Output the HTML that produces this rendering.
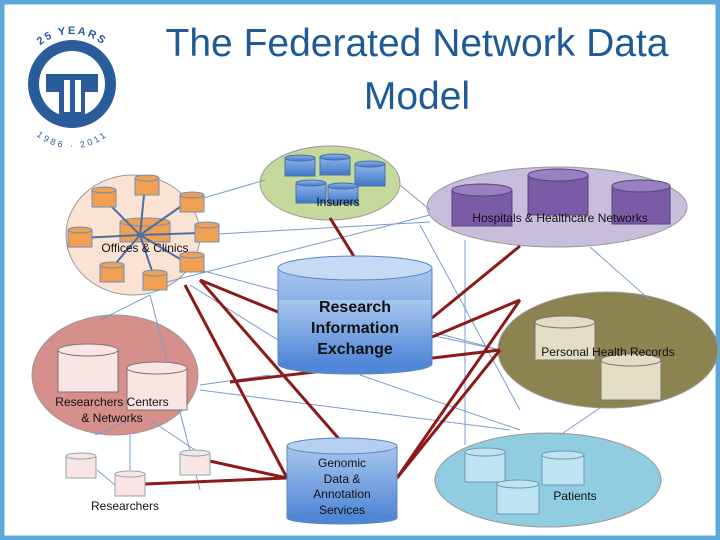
<!DOCTYPE html>
<html><head><style>
body{margin:0;width:720px;height:540px;overflow:hidden;background:#fff;}
svg{display:block}
text{font-family:"Liberation Sans",sans-serif}
</style></head><body>
<svg width="720" height="540" viewBox="0 0 720 540">
<defs>
<linearGradient id="bl" x1="0" y1="0" x2="0" y2="1"><stop offset="0" stop-color="#a9c7ee"/><stop offset="1" stop-color="#4f86d6"/></linearGradient>
<linearGradient id="bl2" x1="0" y1="0" x2="0" y2="1"><stop offset="0" stop-color="#8fb6ea"/><stop offset="1" stop-color="#4177cb"/></linearGradient>
<path id="arcTop" d="M22 84 A50 50 0 0 1 122 84"/>
<path id="arcBot" d="M22 92 A50 50 0 0 0 122 92"/>
</defs>
<rect x="2" y="2" width="716" height="536" fill="#fff" stroke="#5aa9d8" stroke-width="5"/>
<!-- logo -->
<circle cx="72" cy="84" r="44" fill="#2a5b9a"/>
<circle cx="72" cy="84" r="33" fill="#fff"/>
<path d="M46 74 L98 74 L98 92 L85 92 L85 118 L59 118 L59 92 L46 92Z" fill="#2a5b9a"/>
<rect x="64" y="80" width="6" height="32" fill="#fff"/><rect x="75" y="80" width="6" height="32" fill="#fff"/>
<text font-size="11" font-weight="bold" fill="#2a5b9a" letter-spacing="2"><textPath href="#arcTop" startOffset="50%" text-anchor="middle">25 YEARS</textPath></text>
<text font-size="9" fill="#2a5b9a" letter-spacing="2"><textPath href="#arcBot" startOffset="50%" text-anchor="middle" dominant-baseline="hanging">1986 · 2011</textPath></text>
<text x="417" y="56" font-size="39" fill="#1f5a96" text-anchor="middle">The Federated Network Data</text>
<text x="417" y="109" font-size="39" fill="#1f5a96" text-anchor="middle">Model</text>
<!-- shapes -->
<ellipse cx="133" cy="235" rx="67" ry="60" fill="#fbe3d3" stroke="#999"/>
<ellipse cx="330" cy="183" rx="70" ry="37" fill="#c4d99b" stroke="#999"/>
<ellipse cx="557" cy="207" rx="130" ry="40" fill="#c8bddb" stroke="#999"/>
<ellipse cx="608" cy="350" rx="110" ry="58" fill="#8c8450" stroke="#999"/>
<ellipse cx="115" cy="375" rx="83" ry="60" fill="#d68f8a" stroke="#999"/>
<ellipse cx="548" cy="480" rx="113" ry="47" fill="#90cde0" stroke="#999"/>
<!-- blue thin lines -->
<g stroke="#7b9ccc" stroke-width="1" fill="none">
<line x1="200" y1="235" x2="430" y2="222"/><line x1="180" y1="205" x2="265" y2="180"/>
<line x1="155" y1="285" x2="430" y2="215"/><line x1="200" y1="270" x2="500" y2="350"/>
<line x1="190" y1="285" x2="278" y2="340"/><line x1="150" y1="295" x2="100" y2="320"/>
<line x1="150" y1="295" x2="200" y2="490"/><line x1="465" y1="240" x2="465" y2="445"/>
<line x1="420" y1="225" x2="520" y2="410"/><line x1="590" y1="247" x2="650" y2="300"/>
<line x1="200" y1="390" x2="510" y2="430"/><line x1="270" y1="375" x2="200" y2="385"/>
<line x1="360" y1="375" x2="520" y2="430"/><line x1="430" y1="335" x2="500" y2="350"/>
<line x1="560" y1="435" x2="600" y2="408"/><line x1="400" y1="185" x2="430" y2="210"/>
<line x1="95" y1="435" x2="130" y2="420"/><line x1="130" y1="435" x2="130" y2="470"/><line x1="150" y1="420" x2="195" y2="450"/><line x1="97" y1="470" x2="115" y2="485"/>
</g>
<!-- red lines -->
<g stroke="#8b1a1a" stroke-width="3" fill="none">
<line x1="330" y1="218" x2="355" y2="258"/><line x1="200" y1="280" x2="278" y2="312"/>
<line x1="200" y1="280" x2="340" y2="440"/><line x1="185" y1="285" x2="287" y2="478"/>
<line x1="230" y1="382" x2="500" y2="350"/><line x1="432" y1="318" x2="520" y2="246"/>
<line x1="397" y1="478" x2="520" y2="300"/><line x1="397" y1="478" x2="500" y2="350"/>
<line x1="205" y1="460" x2="287" y2="478"/><line x1="145" y1="484" x2="287" y2="478"/>
<line x1="432" y1="337" x2="520" y2="300"/>
</g>
<!-- offices cylinders -->
<g fill="#f0a050" stroke="#6e8fbf" stroke-width="1">
<rect x="120" y="222" width="50" height="20"/><ellipse cx="145" cy="222" rx="25" ry="4"/>
</g>
<g stroke="#4a6fa5" stroke-width="2"><line x1="140" y1="235" x2="145" y2="185"/><line x1="140" y1="235" x2="105" y2="200"/><line x1="140" y1="235" x2="190" y2="200"/><line x1="140" y1="235" x2="200" y2="233"/><line x1="140" y1="235" x2="80" y2="238"/><line x1="140" y1="235" x2="190" y2="265"/><line x1="140" y1="235" x2="110" y2="270"/><line x1="140" y1="235" x2="155" y2="280"/></g>
<g fill="#f0a050" stroke="#6e8fbf">
<rect x="135" y="178" width="24" height="17"/><ellipse cx="147" cy="178" rx="12" ry="3"/>
<rect x="92" y="190" width="24" height="17"/><ellipse cx="104" cy="190" rx="12" ry="3"/>
<rect x="180" y="195" width="24" height="17"/><ellipse cx="192" cy="195" rx="12" ry="3"/>
<rect x="68" y="230" width="24" height="17"/><ellipse cx="80" cy="230" rx="12" ry="3"/>
<rect x="195" y="225" width="24" height="17"/><ellipse cx="207" cy="225" rx="12" ry="3"/>
<rect x="180" y="255" width="24" height="17"/><ellipse cx="192" cy="255" rx="12" ry="3"/>
<rect x="100" y="265" width="24" height="17"/><ellipse cx="112" cy="265" rx="12" ry="3"/>
<rect x="143" y="273" width="24" height="17"/><ellipse cx="155" cy="273" rx="12" ry="3"/>
</g>
<text x="145" y="252" font-size="12" text-anchor="middle" fill="#111">Offices &amp; Clinics</text>
<!-- insurers -->
<g fill="url(#bl2)" stroke="#4a6fa5">
<rect x="285" y="158" width="30" height="18"/><ellipse cx="300" cy="158" rx="15" ry="3"/>
<rect x="320" y="157" width="30" height="18"/><ellipse cx="335" cy="157" rx="15" ry="3"/>
<rect x="355" y="164" width="30" height="22"/><ellipse cx="370" cy="164" rx="15" ry="3"/>
<rect x="296" y="183" width="30" height="20"/><ellipse cx="311" cy="183" rx="15" ry="3"/>
<rect x="328" y="186" width="30" height="18"/><ellipse cx="343" cy="186" rx="15" ry="3"/>
</g>
<text x="338" y="206" font-size="12" text-anchor="middle" fill="#111">Insurers</text>
<!-- hospitals -->
<g fill="#7b5aa6" stroke="#4a4a80">
<rect x="452" y="190" width="60" height="36"/><ellipse cx="482" cy="190" rx="30" ry="6" fill="#9a80c0"/>
<rect x="528" y="175" width="60" height="40"/><ellipse cx="558" cy="175" rx="30" ry="6" fill="#9a80c0"/>
<rect x="612" y="186" width="58" height="38"/><ellipse cx="641" cy="186" rx="29" ry="6" fill="#9a80c0"/>
</g>
<text x="560" y="222" font-size="12" text-anchor="middle" fill="#111">Hospitals &amp; Healthcare Networks</text>
<!-- RIE -->
<rect x="278" y="268" width="154" height="96" fill="url(#bl)" stroke="#5b85c0"/>
<ellipse cx="355" cy="364" rx="77" ry="10" fill="#4f86d6" stroke="#5b85c0"/>
<rect x="279" y="300" width="152" height="64" fill="url(#bl)"/>
<ellipse cx="355" cy="268" rx="77" ry="12" fill="#c5dbf4" stroke="#5b85c0"/>
<text x="355" y="312" font-size="16" font-weight="bold" text-anchor="middle" fill="#111">Research</text>
<text x="355" y="333" font-size="16" font-weight="bold" text-anchor="middle" fill="#111">Information</text>
<text x="355" y="354" font-size="16" font-weight="bold" text-anchor="middle" fill="#111">Exchange</text>
<!-- PHR -->
<g fill="#e3ddc3" stroke="#777">
<rect x="535" y="322" width="60" height="38"/><ellipse cx="565" cy="322" rx="30" ry="6"/>
<rect x="601" y="360" width="60" height="40"/><ellipse cx="631" cy="360" rx="30" ry="6"/>
</g>
<text x="608" y="356" font-size="12" text-anchor="middle" fill="#111">Personal Health Records</text>
<!-- researchers centers -->
<g fill="#fbe4e4" stroke="#777">
<rect x="58" y="350" width="60" height="42"/><ellipse cx="88" cy="350" rx="30" ry="6"/>
<rect x="127" y="368" width="60" height="42"/><ellipse cx="157" cy="368" rx="30" ry="6"/>
</g>
<text x="112" y="406" font-size="12" text-anchor="middle" fill="#111">Researchers Centers</text>
<text x="112" y="422" font-size="12" text-anchor="middle" fill="#111">&amp; Networks</text>
<!-- researchers -->
<g fill="#fbe4e4" stroke="#8aa">
<rect x="66" y="456" width="30" height="22"/><ellipse cx="81" cy="456" rx="15" ry="3"/>
<rect x="115" y="474" width="30" height="22"/><ellipse cx="130" cy="474" rx="15" ry="3"/>
<rect x="180" y="453" width="30" height="22"/><ellipse cx="195" cy="453" rx="15" ry="3"/>
</g>
<text x="125" y="510" font-size="12" text-anchor="middle" fill="#111">Researchers</text>
<!-- genomic -->
<rect x="287" y="446" width="110" height="72" fill="url(#bl)" stroke="#5b85c0"/>
<ellipse cx="342" cy="518" rx="55" ry="6" fill="#4f86d6" stroke="#5b85c0"/>
<ellipse cx="342" cy="446" rx="55" ry="8" fill="#b5cff0" stroke="#5b85c0"/>
<g font-size="12" text-anchor="middle" fill="#111"><text x="342" y="467">Genomic</text><text x="342" y="483">Data &amp;</text><text x="342" y="498">Annotation</text><text x="342" y="514">Services</text></g>
<!-- patients -->
<g fill="#bfe3ef" stroke="#6a9ab5">
<rect x="465" y="452" width="40" height="30"/><ellipse cx="485" cy="452" rx="20" ry="4"/>
<rect x="542" y="455" width="42" height="30"/><ellipse cx="563" cy="455" rx="21" ry="4"/>
<rect x="497" y="484" width="42" height="30"/><ellipse cx="518" cy="484" rx="21" ry="4"/>
</g>
<text x="575" y="500" font-size="12" text-anchor="middle" fill="#111">Patients</text>
</svg>
</body></html>
